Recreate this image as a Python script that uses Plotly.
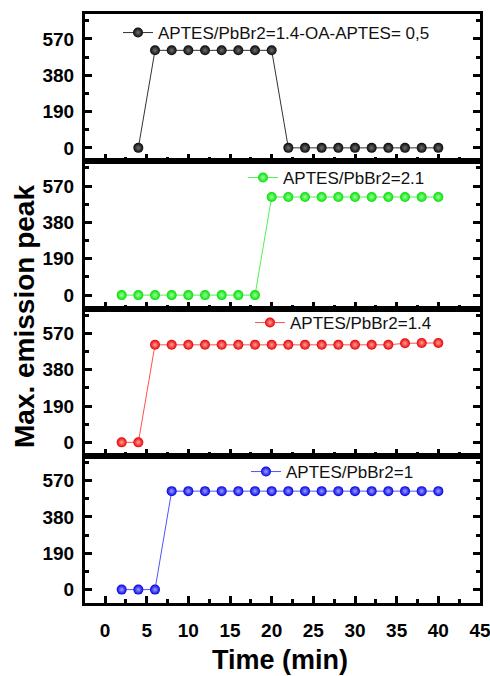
import plotly.graph_objects as go
from plotly.subplots import make_subplots

# Time points (min) and maximum emission peak for each sample
t_oa = [4, 6, 8, 10, 12, 14, 16, 18, 20, 22, 24, 26, 28, 30, 32, 34, 36, 38, 40]
v_oa = [0, 510, 510, 510, 510, 510, 510, 510, 510, 0, 0, 0, 0, 0, 0, 0, 0, 0, 0]

t_21 = [2, 4, 6, 8, 10, 12, 14, 16, 18, 20, 22, 24, 26, 28, 30, 32, 34, 36, 38, 40]
v_21 = [0, 0, 0, 0, 0, 0, 0, 0, 0, 513, 513, 513, 513, 513, 513, 513, 513, 513, 513, 513]

t_14 = [2, 4, 6, 8, 10, 12, 14, 16, 18, 20, 22, 24, 26, 28, 30, 32, 34, 36, 38, 40]
v_14 = [0, 0, 510, 510, 510, 510, 510, 510, 510, 510, 510, 510, 510, 510, 510, 510, 510, 518, 520, 520]

t_10 = [2, 4, 6, 8, 10, 12, 14, 16, 18, 20, 22, 24, 26, 28, 30, 32, 34, 36, 38, 40]
v_10 = [0, 0, 0, 515, 515, 515, 515, 515, 515, 515, 515, 515, 515, 515, 515, 515, 515, 515, 515, 515]

names = [
    "APTES/PbBr2=1.4-OA-APTES= 0,5",
    "APTES/PbBr2=2.1",
    "APTES/PbBr2=1.4",
    "APTES/PbBr2=1",
]
series = [(t_oa, v_oa), (t_21, v_21), (t_14, v_14), (t_10, v_10)]

# (marker edge colour, highlight colour, line colour)
styles = [
    ("#080808", "#707070", "#333333"),
    ("#00e000", "#a0ffa0", "#55ee55"),
    ("#e80000", "#ffa0a0", "#ff5050"),
    ("#0000e0", "#a0a0ff", "#5050ff"),
]

y_ticks = [0, 190, 380, 570]

fig = make_subplots(rows=4, cols=1, shared_xaxes=True, vertical_spacing=0)

W, H = 490, 676
ml, mr, mt, mb = 85, 10, 14, 73
pw = W - ml - mr
ph = H - mt - mb

# legend placement: (left pixel of legend, centre pixel of row)
leg_pos = [(118, 33), (243, 178), (250, 323), (246, 472)]

for i, ((tx, vy), name, (mc, gc, lc)) in enumerate(zip(series, names, styles)):
    lg = "legend" if i == 0 else f"legend{i + 1}"
    fig.add_trace(
        go.Scatter(
            x=tx, y=vy, name=name, mode="lines+markers",
            line=dict(color=lc, width=1),
            marker=dict(size=10, color=mc,
                        gradient=dict(type="radial", color=gc),
                        line=dict(width=0)),
            legend=lg, showlegend=True,
        ),
        row=i + 1, col=1,
    )
    lx, ly = leg_pos[i]
    fig.update_layout({
        lg: dict(
            x=(lx - ml) / pw, xanchor="left",
            y=(H - mb - ly) / ph, yanchor="middle",
            bgcolor="rgba(0,0,0,0)", borderwidth=0,
            font=dict(family="Liberation Sans, Arial", size=17, color="#111"),
        )
    })

tick_font = dict(family="Liberation Sans, Arial", size=19, color="#000")

for r in range(1, 5):
    fig.update_yaxes(
        row=r, col=1,
        range=[-70, 700], tickmode="array", tickvals=y_ticks,
        ticktext=[f"<b>{v}</b>" for v in y_ticks],
        ticks="inside", ticklen=7, tickwidth=3, tickcolor="#000",
        minor=dict(tickvals=[95, 285, 475, 665], ticks="inside", ticklen=4,
                   tickwidth=3, tickcolor="#000"),
        showline=True, linewidth=3, linecolor="#000", mirror="ticks",
        showgrid=False, zeroline=False, automargin=False,
        tickfont=tick_font, ticklabelstandoff=4,
    )
    fig.update_xaxes(
        row=r, col=1,
        range=[-2.4, 45], tickmode="linear", tick0=0, dtick=5,
        ticks="inside", ticklen=7, tickwidth=3, tickcolor="#000",
        minor=dict(dtick=2.5, tick0=0, ticks="inside", ticklen=4,
                   tickwidth=3, tickcolor="#000"),
        showline=True, linewidth=3, linecolor="#000", mirror=True,
        showgrid=False, zeroline=False, automargin=False,
        tickfont=tick_font, showticklabels=(r == 4), ticklabelstandoff=8,
        ticklabeloverflow="allow",
        tickprefix="<b>", ticksuffix="</b>",
    )

title_font = dict(family="Liberation Sans, Arial", size=28, color="#000")
fig.add_annotation(
    text="<b>Max. emission peak</b>", textangle=-90,
    xref="paper", yref="paper",
    x=(24 - ml) / pw, y=(H - mb - 317) / ph,
    xanchor="center", yanchor="middle", showarrow=False, font=title_font,
)
fig.add_annotation(
    text="<b>Time (min)</b>",
    xref="paper", yref="paper",
    x=(280 - ml) / pw, y=(H - mb - 660) / ph,
    xanchor="center", yanchor="middle", showarrow=False,
    font=dict(family="Liberation Sans, Arial", size=27, color="#000"),
)

fig.update_layout(
    width=W, height=H,
    margin=dict(l=ml, r=mr, t=mt, b=mb, autoexpand=False),
    paper_bgcolor="white", plot_bgcolor="white",
    font=dict(family="Liberation Sans, Arial", color="#000"),
)

fig.write_html("out.html")
